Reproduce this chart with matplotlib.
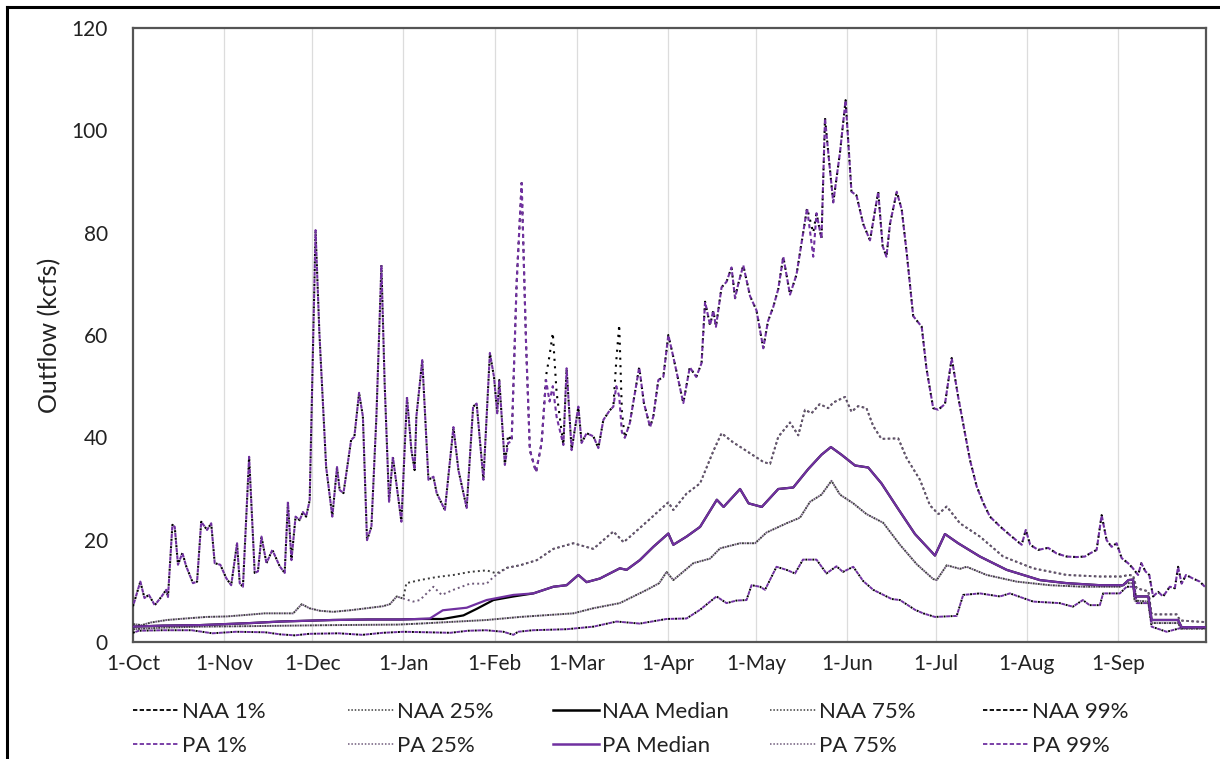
import matplotlib
matplotlib.use("Agg")
import matplotlib.pyplot as plt
from matplotlib.lines import Line2D

# ---------------- data ----------------
month_labels = ["1-Oct", "1-Nov", "1-Dec", "1-Jan", "1-Feb", "1-Mar", "1-Apr",
                "1-May", "1-Jun", "1-Jul", "1-Aug", "1-Sep"]
month_days = [0, 31, 61, 92, 123, 151, 182, 212, 243, 273, 304, 335]

# 99% exceedance (day of water year, kcfs)
days_99 = [0, 2.5, 3.9, 5.4, 7.4, 9.6, 11.3, 11.9, 13.4, 14.2, 15.3, 16.8, 18.1, 20.4,
           21.8, 23.2, 25.2, 26.6, 27.8, 29.7, 31.7, 33.4, 35.4, 36.3, 37.4, 39.5, 41.4,
           42.5, 43.7, 45.4, 47.4, 49.9, 51.6, 52.7, 53.9, 55.3, 56.7, 57.8, 58.9, 60.1,
           62.1, 63.4, 65.7, 67.8, 69.4, 70.3, 71.6, 74.2, 75.3, 76.9, 78.2, 79.6, 81.1,
           82.8, 84.5, 85.6, 87.1, 88.4, 89.6, 91.3, 93.2, 94.7, 95.8, 96.4, 98.4, 100.5,
           102.2, 103.3, 106.1, 109, 110.7, 113.5, 115.7, 116.9, 119.2, 121.4, 122.8,
           123.9, 124.6, 125.4, 126.5, 127.6, 128.8, 130.5, 132.2, 133.7, 135, 137.1, 139,
           140.5, 141.7, 142.8, 144.1, 146.4, 147.5, 149.2, 151.5, 152.6, 154.3, 156.6,
           158.3, 160, 162.2, 163.4, 164.4, 165.4, 166.3, 167.3, 169, 172.2, 173.8, 175.9,
           177, 178.7, 180.4, 182.1, 183.8, 187.2, 189.4, 191.6, 193.4, 194.6, 196.3,
           197.4, 198.3, 200.2, 201.9, 203.6, 204.8, 205.9, 207.6, 209.9, 212.1, 214.4,
           216, 217.8, 219.5, 221.2, 223.5, 225.7, 229.3, 231.4, 232.5, 234.2, 235.4,
           236.5, 238.2, 240.5, 242.4, 244.4, 246.1, 248.4, 250.7, 253.5, 255, 256.3,
           257.5, 259.8, 261.5, 263.2, 265.4, 268.3, 269.9, 272.2, 273.9, 276.2, 278.5,
           280.7, 283, 284.7, 287, 289.3, 291.5, 294.9, 298.3, 302.3, 303.7, 305.2, 307.9,
           311.3, 314.2, 317.6, 321, 323.8, 325.5, 327.8, 329.5, 331.2, 332.9, 334.6,
           336.3, 338.5, 340, 341.9, 343, 344.4, 345.7, 347, 348.7, 350.4, 352.7, 354.4,
           355.5, 356.7, 358.2, 360.6, 362.9, 364.6]
pa_99 = [7.0, 11.8, 8.6, 9.2, 7.2, 8.8, 10.2, 8.8, 22.9, 22.5, 15.1, 17.4, 14.8, 11.5,
         11.8, 23.5, 21.9, 23.2, 15.4, 15.1, 12.5, 11.1, 19.3, 11.5, 10.8, 36.2, 13.5,
         13.8, 20.6, 15.4, 18.0, 14.8, 13.5, 27.4, 16.0, 24.5, 23.8, 25.4, 24.5, 27.7,
         80.5, 60.4, 34.2, 24.5, 34.2, 29.7, 29.1, 39.5, 40.1, 48.7, 44.1, 19.9, 22.5,
         44.1, 73.7, 50.6, 27.4, 36.2, 31.0, 23.5, 47.9, 37.5, 33.6, 44.1, 55.1, 31.7,
         32.3, 29.1, 25.8, 42.0, 33.6, 26.2, 46.0, 46.6, 31.7, 56.5, 51.8,
         44.7, 51.2, 44.1, 34.6, 38.9, 39.2, 70.2, 89.7, 58.4, 37.5, 33.2, 38.9,
         51.2, 47.0, 50.0, 44.0, 38.5, 53.5, 37.5, 46.0, 38.9, 40.8, 40.2,
         37.9, 43.4, 45.3, 46.0, 50.0, 48.0, 41.0, 39.9, 42.8, 53.7, 46.7, 42.0,
         44.1, 51.2, 51.8, 60.0, 55.7, 46.7, 53.7, 51.8, 54.5, 66.5, 61.9,
         64.8, 61.6, 69.3, 70.4, 73.2, 67.2, 70.0, 73.6, 67.6, 64.8, 57.4,
         62.7, 65.5, 69.0, 75.3, 67.9, 71.8, 84.8, 75.3, 83.8, 78.8, 102.4,
         95.7, 85.9, 95.7, 105.9, 88.0, 87.3, 81.7, 78.5, 88.0, 77.4, 75.3,
         81.7, 88.0, 84.5, 76.0, 63.7, 61.6, 53.5, 45.7, 45.4, 46.5, 55.5,
         47.9, 40.8, 35.6, 30.4, 27.1, 24.5, 22.6, 20.9, 19.0, 21.9, 19.0, 18.0,
         18.4, 17.3, 16.7, 16.6, 16.7, 17.3, 18.0, 24.8, 19.9, 18.6, 19.3,
         16.4, 15.4, 14.5, 13.1, 15.4, 13.8, 13.1, 8.9, 9.8, 8.9, 10.8, 10.5,
         14.7, 11.4, 13.1, 12.4, 11.8, 10.8]
naa_99 = [7.0, 11.8, 8.6, 9.2, 7.2, 8.8, 10.2, 8.8, 22.9, 22.5, 15.1, 17.4, 14.8, 11.5,
          11.8, 23.5, 21.9, 23.2, 15.4, 15.1, 12.5, 11.1, 19.3, 11.5, 10.8, 36.2, 13.5,
          13.8, 20.6, 15.4, 18.0, 14.8, 13.5, 27.4, 16.0, 24.5, 23.8, 25.4, 24.5, 27.7,
          80.5, 60.4, 34.2, 24.5, 34.2, 29.7, 29.1, 39.5, 40.1, 48.7, 44.1, 19.9, 22.5,
          44.1, 73.7, 50.6, 27.4, 36.2, 31.0, 23.5, 47.9, 37.5, 33.6, 44.1, 55.1, 31.7,
          32.3, 29.1, 25.8, 42.0, 33.6, 26.2, 46.0, 46.6, 31.7, 56.5, 51.8,
          44.7, 51.2, 44.1, 34.6, 40.5, 39.2, 70.2, 89.7, 58.4, 37.5, 33.2, 38.9,
          52.0, 56.0, 60.4, 48.7, 38.5, 53.5, 37.5, 46.0, 38.9, 40.8, 40.2,
          37.9, 43.4, 45.3, 46.0, 55.0, 62.0, 45.0, 39.9, 42.8, 53.7, 46.7, 42.0,
          44.1, 51.2, 51.8, 60.0, 55.7, 46.7, 53.7, 51.8, 54.5, 66.5, 61.9,
          64.8, 61.6, 69.3, 70.4, 73.2, 67.2, 70.0, 73.6, 67.6, 64.8, 57.4,
          62.7, 65.5, 69.0, 75.3, 67.9, 71.8, 84.8, 80.0, 83.8, 78.8, 102.4,
          95.7, 85.9, 95.7, 105.9, 88.0, 87.3, 81.7, 78.5, 88.0, 77.4, 75.3,
          81.7, 88.0, 84.5, 76.0, 63.7, 61.6, 53.5, 45.7, 45.4, 46.5, 55.5,
          47.9, 40.8, 35.6, 30.4, 27.1, 24.5, 22.6, 20.9, 19.0, 21.9, 19.0, 18.0,
          18.4, 17.3, 16.7, 16.6, 16.7, 17.3, 18.0, 24.8, 19.9, 18.6, 19.3,
          16.4, 15.4, 14.5, 13.1, 15.4, 13.8, 13.1, 8.9, 9.8, 8.9, 10.8, 10.5,
          14.7, 11.4, 13.1, 12.4, 11.8, 10.8]

# 75% exceedance
naa_75_days = [0, 3, 6, 11.5, 18, 25, 32, 38.7, 44.8, 54.5, 57.4, 60, 63.6, 68.1, 73.8,
               79.5, 85.1, 87.4, 89.7, 91.9, 93, 97.6, 103.3, 109, 114.6, 120.3, 123.7,
               127.2, 131.7, 137.4, 143, 149.8, 156.6, 163.4, 166.9, 174.8, 182.1, 183.8,
               188.3, 192.9, 197.4, 200.2, 204.2, 208.8, 214.4, 216.7, 219.5, 223.5,
               226.3, 228.6, 230.8, 233.6, 236.5, 238.2, 242.2, 244.4, 246.7, 249.5,
               251.8, 254.6, 260.3, 263.2, 267.7, 271.1, 274, 276.8, 281.3, 288.1, 296,
               306.2, 317.6, 328.9, 336.3, 338.6, 340.2, 341.4, 345.4, 346.5, 355, 356.2,
               364.6]
naa_75 = [3.5, 3.3, 3.8, 4.3, 4.6, 4.9, 5.0, 5.3, 5.6, 5.6, 7.4, 6.6, 6.1, 5.9, 6.2,
          6.6, 7.0, 7.4, 8.9, 8.5, 11.5, 12.1, 12.7, 13.1, 13.7, 14.0, 13.4,
          14.5, 15.0, 16.0, 18.2, 19.3, 18.2, 21.6, 19.5, 23.5, 27.3, 25.8,
          29.0, 31.0, 37.3, 40.8, 39.0, 37.3, 35.2, 34.8, 40.1, 42.9,
          40.4, 45.4, 44.7, 46.5, 45.7, 46.8, 47.9, 45.0, 46.1, 45.7,
          42.2, 39.7, 39.8, 35.9, 31.7, 26.7, 25.0, 26.5, 23.2, 20.6, 16.7,
          14.4, 13.1, 12.8, 12.8, 13.1, 13.0, 10.5, 9.9, 5.4, 5.4, 4.2,
          3.9]
pa_75_days = [0, 3, 6, 11.5, 18, 25, 32, 38.7, 44.8, 54.5, 57.4, 60, 63.6, 68.1, 73.8,
              79.5, 85.1, 87.4, 89.7, 91.9, 95.3, 97.6, 102.2, 105, 109, 114.6, 120.3,
              122.6, 127.2, 131.7, 137.4, 143, 149.8, 156.6, 163.4, 166.9, 174.8, 182.1,
              183.8, 188.3, 192.9, 197.4, 200.2, 204.2, 208.8, 214.4, 216.7, 219.5,
              223.5, 226.3, 228.6, 230.8, 233.6, 236.5, 238.2, 242.2, 244.4, 246.7,
              249.5, 251.8, 254.6, 260.3, 263.2, 267.7, 271.1, 274, 276.8, 281.3, 288.1,
              296, 306.2, 317.6, 328.9, 336.3, 338.6, 340.2, 341.4, 345.4, 346.5, 355,
              356.2, 364.6]
pa_75 = [3.5, 3.3, 3.8, 4.3, 4.6, 4.9, 5.0, 5.3, 5.6, 5.6, 7.4, 6.6, 6.1, 5.9, 6.2,
         6.6, 7.0, 7.4, 8.9, 8.5, 7.9, 8.2, 10.8, 9.2, 10.2, 11.4, 11.4,
         12.7, 14.5, 15.0, 16.0, 18.2, 19.3, 18.2, 21.6, 19.5, 23.5, 27.3,
         25.8, 29.0, 31.0, 37.3, 40.8, 39.0, 37.3, 35.2, 34.8, 40.1,
         42.9, 40.4, 45.4, 44.7, 46.5, 45.7, 46.8, 47.9, 45.0, 46.1,
         45.7, 42.2, 39.7, 39.8, 35.9, 31.7, 26.7, 25.0, 26.5, 23.2, 20.6,
         16.7, 14.4, 13.1, 12.8, 12.8, 13.1, 13.0, 10.5, 9.9, 5.4, 5.4,
         4.2, 3.9]

# 25% exceedance
days_25 = [0, 10, 22.8, 40, 68, 90, 97.6, 120.3, 131.7, 149.8, 156.6, 165.6, 174.8, 179,
           181.5, 183.8, 190.6, 196.3, 199.7, 206.5, 211.6, 215.5, 222.3, 226.9, 230.3,
           234.2, 237.6, 240.5, 245, 249.5, 255.2, 260.9, 266.6, 272.2, 273.4, 276.8,
           281.3, 283.6, 290.4, 300.6, 311.9, 323.2, 335.7, 338, 340.2, 340.7, 345.4,
           346.5, 355.5, 356.5, 364.6]
naa_25 = [2.5, 2.8, 3.0, 3.1, 3.3, 3.4, 3.6, 4.3, 4.9, 5.6, 6.6, 7.6, 10.2, 11.5,
          13.7, 12.1, 15.4, 16.3, 18.3, 19.3, 19.3, 21.4, 23.2, 24.3, 27.4,
          28.8, 31.5, 28.8, 27.1, 25.0, 23.3, 19.0, 15.2, 12.3, 12.1, 15.0,
          14.3, 14.7, 13.1, 11.8, 11.1, 10.8, 10.8, 11.5, 11.5, 8.1, 7.9,
          3.7, 3.7, 2.6, 2.6]
pa_25 = [2.5, 2.8, 3.0, 3.1, 3.3, 3.4, 3.6, 4.3, 4.9, 5.6, 6.6, 7.6, 10.2, 11.5,
         13.7, 12.1, 15.4, 16.3, 18.3, 19.3, 19.3, 21.4, 23.2, 24.3, 27.4,
         28.8, 31.5, 28.8, 27.1, 25.0, 23.3, 19.0, 15.2, 12.3, 12.1, 15.0,
         14.3, 14.7, 13.1, 11.8, 11.1, 10.8, 10.8, 11.5, 11.5, 8.1, 7.9,
         3.7, 3.7, 2.6, 2.6]

# Median
naa_med_days = [0, 10, 22.8, 40, 50, 68, 80, 90.8, 97.6, 105.4, 112.4, 117, 122.6, 129.4,
                136.2, 143, 147.5, 151.5, 154.3, 158.8, 165.6, 167.9, 172.4, 177, 182.1,
                183.8, 188.3, 192.9, 198.6, 200.9, 206.5, 209.4, 213.9, 219.5, 224.6,
                229.7, 234.2, 237.4, 241, 245.6, 250.1, 254.6, 260.3, 266, 272.8, 276.2,
                280.7, 288.1, 297.2, 308.5, 317.6, 328.9, 336.8, 338.6, 340.2, 340.7,
                345.4, 346.5, 355.5, 356.7, 364.6]
naa_med = [3.0, 3.2, 3.3, 3.7, 4.0, 4.3, 4.4, 4.4, 4.5, 4.5, 5.2, 6.5, 8.2, 8.9,
           9.5, 10.8, 11.1, 13.1, 11.7, 12.4, 14.4, 14.1, 16.0, 18.6, 21.2,
           19.0, 20.6, 22.5, 27.8, 26.4, 29.9, 27.1, 26.4, 29.9, 30.2,
           33.8, 36.6, 38.1, 36.6, 34.5, 34.1, 31.0, 26.0, 21.1, 16.9, 21.1,
           19.3, 16.7, 14.1, 12.1, 11.5, 11.1, 11.1, 12.1, 12.2, 8.9,
           8.9, 4.3, 4.3, 2.9, 2.9]
pa_med_days = [0, 10, 22.8, 40, 50, 68, 80, 90.8, 97.6, 101, 105.4, 113.5, 120.3, 129.4,
               136.2, 143, 147.5, 151.5, 154.3, 158.8, 165.6, 167.9, 172.4, 177, 182.1,
               183.8, 188.3, 192.9, 198.6, 200.9, 206.5, 209.4, 213.9, 219.5, 224.6,
               229.7, 234.2, 237.4, 241, 245.6, 250.1, 254.6, 260.3, 266, 272.8, 276.2,
               280.7, 288.1, 297.2, 308.5, 317.6, 328.9, 336.8, 338.6, 340.2, 340.7,
               345.4, 346.5, 355.5, 356.7, 364.6]
pa_med = [3.0, 3.2, 3.3, 3.7, 4.0, 4.3, 4.4, 4.4, 4.5, 4.6, 6.2, 6.7, 8.2, 9.2,
          9.5, 10.8, 11.1, 13.1, 11.7, 12.4, 14.4, 14.1, 16.0, 18.6, 21.2,
          19.0, 20.6, 22.5, 27.8, 26.4, 29.9, 27.1, 26.4, 29.9, 30.2,
          33.8, 36.6, 38.1, 36.6, 34.5, 34.1, 31.0, 26.0, 21.1, 16.9, 21.1,
          19.3, 16.7, 14.1, 12.1, 11.5, 11.1, 11.1, 12.1, 12.2, 8.9,
          8.9, 4.3, 4.3, 2.9, 2.9]

# 1% exceedance
days_1 = [0, 2, 10, 20, 27, 35, 45, 50, 55, 60, 70, 78, 85, 92, 100, 108, 114, 120, 126,
          129.4, 131, 136, 147.5, 156.6, 164.5, 172.4, 181.5, 188.3, 192.9, 197.4, 198.5,
          201.9, 205.3, 208.7, 210.4, 213.3, 215, 218.9, 222.3, 225.2, 227.9, 232.5,
          235.9, 239.3, 241.5, 245, 248.4, 251.8, 258.1, 260.9, 266, 268.8, 272.8,
          280.2, 282.4, 288.1, 294.9, 298.3, 306.2, 315.2, 319.7, 323.1, 325.4, 328.9,
          330, 335.7, 338, 340.7, 341.4, 345.4, 346.5, 351.6, 356.2, 364.6]
naa_1 = [1.8, 2.2, 2.3, 2.3, 1.7, 2.0, 1.9, 1.5, 1.3, 1.6, 1.7, 1.4, 1.8, 2.0, 1.9, 1.8,
         2.2, 2.3, 2.0, 1.4, 2.0, 2.3, 2.5, 3.0, 4.0, 3.6, 4.5, 4.6, 6.3, 8.4, 8.9,
         7.6, 8.1, 8.2, 11.1, 10.8, 10.2, 14.7, 14.1, 13.4, 16.1, 16.1,
         13.4, 14.8, 13.7, 14.7, 11.9, 10.2, 8.4, 8.2, 6.3, 5.6, 4.9,
         5.1, 9.2, 9.5, 8.9, 9.5, 7.9, 7.6, 6.9, 8.2, 7.2, 7.2,
         9.5, 9.5, 10.8, 10.8, 7.6, 7.6, 3.0, 2.0, 2.7, 2.7]
pa_1 = [1.8, 2.2, 2.3, 2.3, 1.7, 2.0, 1.9, 1.5, 1.3, 1.6, 1.7, 1.4, 1.8, 2.0, 1.9, 1.8,
        2.2, 2.3, 2.0, 1.4, 2.0, 2.3, 2.5, 3.0, 4.0, 3.6, 4.5, 4.6, 6.3, 8.4, 8.9,
        7.6, 8.1, 8.2, 11.1, 10.8, 10.2, 14.7, 14.1, 13.4, 16.1, 16.1,
        13.4, 14.8, 13.7, 14.7, 11.9, 10.2, 8.4, 8.2, 6.3, 5.6, 4.9,
        5.1, 9.2, 9.5, 8.9, 9.5, 7.9, 7.6, 6.9, 8.2, 7.2, 7.2,
        9.5, 9.5, 10.8, 10.8, 7.6, 7.6, 3.0, 2.0, 2.7, 2.7]

y_ticks = [0, 20, 40, 60, 80, 100, 120]

# ---------------- style ----------------
PURPLE = "#7030A0"
BLACK = "#000000"
DOT_NAA = "#3c3c3c"
DOT_PA = "#6e5a7a"
FONT = "Lato"

fig = plt.figure(figsize=(12.2, 7.59), dpi=100)
W, H = 1220, 759
ax = fig.add_axes([133 / W, 1 - 642 / H, (1206 - 133) / W, (642 - 28) / H])

# alternating short black / longer purple dashes with small white gaps
dash_naa = (0, (1.0, 2.6))
dash_pa = (2.3, (2.0, 1.6))
dot_naa = (0, (1, 1.6))
dot_pa = (1.3, (1, 1.6))

# 1%
ax.plot(days_1, naa_1, color=BLACK, lw=1.4, ls=dash_naa, zorder=3)
ax.plot(days_1, pa_1, color=PURPLE, lw=1.4, ls=dash_pa, zorder=3.1)
# 25%
ax.plot(days_25, naa_25, color=DOT_NAA, lw=1.4, ls=dot_naa, zorder=3)
ax.plot(days_25, pa_25, color=DOT_PA, lw=1.4, ls=dot_pa, zorder=3.1)
# Median
ax.plot(naa_med_days, naa_med, color=BLACK, lw=1.6, ls="-", zorder=4)
ax.plot(pa_med_days, pa_med, color=PURPLE, lw=1.6, ls="-", zorder=4.1)
# 75%
ax.plot(naa_75_days, naa_75, color=DOT_NAA, lw=1.4, ls=dot_naa, zorder=3)
ax.plot(pa_75_days, pa_75, color=DOT_PA, lw=1.4, ls=dot_pa, zorder=3.1)
# 99%
ax.plot(days_99, naa_99, color=BLACK, lw=1.5, ls=dash_naa, zorder=5)
ax.plot(days_99, pa_99, color=PURPLE, lw=1.5, ls=dash_pa, zorder=5.1)

ax.set_xlim(0, 365)
ax.set_ylim(0, 120)
ax.set_yticks(y_ticks)
ax.set_yticklabels([str(v) for v in y_ticks], fontsize=15, fontfamily=FONT, color="#222222")
ax.set_xticks(month_days)
ax.set_xticklabels(month_labels, fontsize=15, fontfamily=FONT, color="#222222")
ax.tick_params(axis="y", length=0, pad=18)
ax.tick_params(axis="x", length=0, pad=9)
for d in month_days[1:]:
    ax.axvline(d, color="#dcdcdc", lw=0.9, zorder=1)
for s in ax.spines.values():
    s.set_color("#555555")
    s.set_linewidth(1.6)
ax.set_ylabel("Outflow (kcfs)", fontsize=18, fontfamily=FONT, color="#222222")
ax.yaxis.set_label_coords(-0.067, 0.5)

# ---------------- legend ----------------
names = ["1%", "25%", "Median", "75%", "99%"]
col_x = [133, 348, 553, 770, 983]
leg_dash = (0, (2.4, 1.3))
leg_dot = (0, (1, 1.2))
styles = [
    (dict(color=BLACK, ls=leg_dash, lw=1.3), dict(color=PURPLE, ls=leg_dash, lw=1.3)),
    (dict(color=DOT_NAA, ls=leg_dot, lw=1.1), dict(color=DOT_PA, ls=leg_dot, lw=1.1)),
    (dict(color=BLACK, ls="-", lw=1.8), dict(color=PURPLE, ls="-", lw=1.8)),
    (dict(color=DOT_NAA, ls=leg_dot, lw=1.1), dict(color=DOT_PA, ls=leg_dot, lw=1.1)),
    (dict(color=BLACK, ls=leg_dash, lw=1.3), dict(color=PURPLE, ls=leg_dash, lw=1.3)),
]
for name, x, (sn, sp) in zip(names, col_x, styles):
    handles = [Line2D([0], [0], **sn), Line2D([0], [0], **sp)]
    labels = ["NAA " + name, "PA " + name]
    fig.legend(handles, labels, loc="upper left",
               bbox_to_anchor=(x / W, 1 - 702 / H), frameon=False,
               prop={"family": FONT, "size": 16}, handlelength=2.05,
               handletextpad=0.15, labelspacing=0.62, borderaxespad=0,
               borderpad=0, labelcolor="#222222")

# outer frame lines (left and top)
fig.add_artist(Line2D([7 / W, 7 / W], [0, 1 - 7 / H], color="black", lw=2.2,
                      transform=fig.transFigure))
fig.add_artist(Line2D([7 / W, 1], [1 - 7 / H, 1 - 7 / H], color="black", lw=2.2,
                      transform=fig.transFigure))

fig.savefig("out.png", dpi=100)
